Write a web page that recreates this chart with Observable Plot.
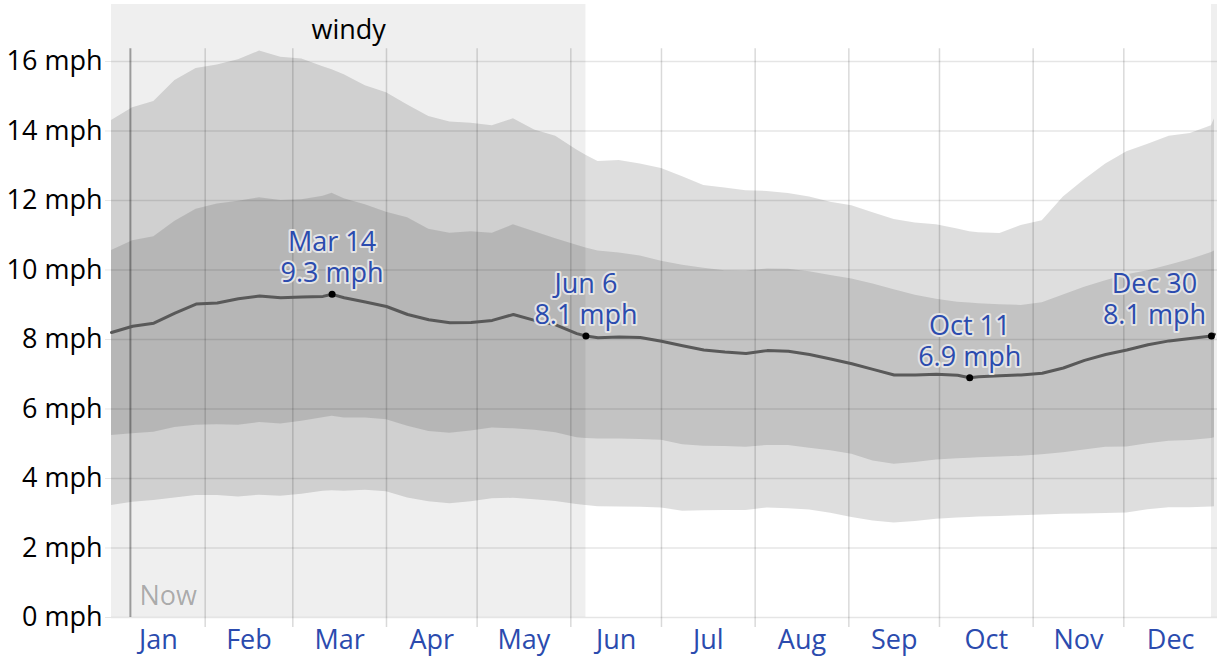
<!DOCTYPE html>
<html>
<head>
<meta charset="utf-8">
<script src="https://cdn.jsdelivr.net/npm/d3@7"></script>
<script src="https://cdn.jsdelivr.net/npm/@observablehq/plot@0.6"></script>
<style>
  html, body { margin: 0; padding: 0; background: #fff; }
  svg { display: block; }
</style>
</head>
<body>
<div id="chart"></div>
<script>
// ---- data ----
const dates = [
  "2024-01-01","2024-01-08","2024-01-15","2024-01-22","2024-01-29","2024-02-05","2024-02-12","2024-02-19","2024-02-26","2024-03-04",
  "2024-03-11","2024-03-14","2024-03-18","2024-03-25","2024-04-01","2024-04-08","2024-04-15","2024-04-22","2024-04-29","2024-05-06",
  "2024-05-13","2024-05-20","2024-05-27","2024-06-03","2024-06-06","2024-06-10","2024-06-17","2024-06-24","2024-07-01","2024-07-08",
  "2024-07-15","2024-07-22","2024-07-29","2024-08-05","2024-08-12","2024-08-19","2024-08-26","2024-09-02","2024-09-09","2024-09-16",
  "2024-09-23","2024-09-30","2024-10-07","2024-10-11","2024-10-14","2024-10-21","2024-10-28","2024-11-04","2024-11-11","2024-11-18",
  "2024-11-25","2024-12-02","2024-12-09","2024-12-16","2024-12-23","2024-12-30","2024-12-31"
];
const median = [
  8.2, 8.38, 8.47, 8.76, 9.02, 9.05, 9.17, 9.25, 9.2, 9.22,
  9.24, 9.3, 9.2, 9.08, 8.95, 8.72, 8.57, 8.48, 8.49, 8.55,
  8.72, 8.55, 8.42, 8.17, 8.1, 8.05, 8.07, 8.06, 7.95, 7.82,
  7.7, 7.64, 7.6, 7.68, 7.66, 7.57, 7.44, 7.3, 7.14, 6.98,
  6.98, 7.0, 6.97, 6.9, 6.93, 6.96, 6.98, 7.03, 7.18, 7.4,
  7.57, 7.7, 7.85, 7.96, 8.03, 8.1, 8.15
];
const p90 = [
  14.3, 14.67, 14.85, 15.45, 15.8, 15.9, 16.05, 16.3, 16.12, 16.07,
  15.85, 15.76, 15.62, 15.3, 15.1, 14.75, 14.42, 14.26, 14.22, 14.15,
  14.35, 14.03, 13.85, 13.45, 13.3, 13.12, 13.15, 13.05, 12.92, 12.68,
  12.43, 12.36, 12.28, 12.26, 12.2, 12.1, 11.95, 11.85, 11.65, 11.45,
  11.35, 11.3, 11.18, 11.1, 11.07, 11.05, 11.28, 11.42, 12.1, 12.6,
  13.05, 13.4, 13.62, 13.85, 13.93, 14.15, 14.35
];
const p75 = [
  10.56, 10.84, 10.96, 11.4, 11.75, 11.9, 11.98, 12.08, 12.0, 12.02,
  12.12, 12.21, 12.05, 11.88, 11.66, 11.5, 11.17, 11.06, 11.1, 11.06,
  11.3, 11.1, 10.9, 10.71, 10.63, 10.55, 10.49, 10.4, 10.25, 10.14,
  10.05, 9.98, 9.97, 10.03, 10.02, 9.95, 9.84, 9.74, 9.6, 9.43,
  9.27, 9.16, 9.07, 9.05, 9.03, 9.0, 8.98, 9.06, 9.28, 9.5,
  9.69, 9.86, 9.98, 10.14, 10.3, 10.5, 10.55
];
const p25 = [
  5.24, 5.29, 5.33, 5.47, 5.53, 5.55, 5.53, 5.61, 5.57, 5.65,
  5.75, 5.79, 5.74, 5.74, 5.69, 5.5, 5.35, 5.3, 5.37, 5.45,
  5.43, 5.39, 5.32, 5.17, 5.15, 5.14, 5.14, 5.12, 5.1, 4.97,
  4.93, 4.92, 4.9, 4.95, 4.95, 4.87, 4.8, 4.7, 4.5, 4.41,
  4.46, 4.53, 4.57, 4.58, 4.6, 4.62, 4.64, 4.68, 4.74, 4.82,
  4.9, 4.91, 5.0, 5.07, 5.09, 5.15, 5.17
];
const p10 = [
  3.22, 3.32, 3.37, 3.44, 3.51, 3.51, 3.47, 3.52, 3.49, 3.55,
  3.63, 3.65, 3.63, 3.66, 3.62, 3.44, 3.33, 3.27, 3.33, 3.42,
  3.43, 3.39, 3.34, 3.25, 3.22, 3.19, 3.18, 3.17, 3.15, 3.06,
  3.07, 3.08, 3.08, 3.15, 3.13, 3.09, 3.0, 2.88, 2.78, 2.72,
  2.76, 2.83, 2.86, 2.88, 2.89, 2.91, 2.93, 2.95, 2.97, 2.98,
  2.99, 3.01, 3.1, 3.16, 3.16, 3.18, 3.19
];
const monthLabels = ["Jan","Feb","Mar","Apr","May","Jun","Jul","Aug","Sep","Oct","Nov","Dec"];
const yTicks = [0, 2, 4, 6, 8, 10, 12, 14, 16];
const yearStart = "2024-01-01";
const yearEnd = "2025-01-01";
const nowDate = "2024-01-07T06:00:00Z";
const windyStarts = ["2024-01-01", "2024-12-30"];
const windyEnds = ["2024-06-06", "2025-01-01"];
const windyLabel = "windy";
const annDates = ["2024-03-14", "2024-06-06", "2024-10-11", "2024-12-30"];
const annLabels = ["Mar 14", "Jun 6", "Oct 11", "Dec 30"];
const annValues = [9.3, 8.1, 6.9, 8.1];

// ---- derived tables ----
const parse = (s) => new Date(s.length === 10 ? s + "T00:00:00Z" : s);
const table = dates.map((d, i) => ({date: parse(d), p10: p10[i], p25: p25[i], median: median[i], p75: p75[i], p90: p90[i]}));
const windy = windyStarts.map((s, i) => ({start: parse(s), end: parse(windyEnds[i])}));
const ann = annDates.map((d, i) => ({date: parse(d), value: annValues[i], text: `${annLabels[i]}\n${annValues[i]} mph`}));
const x0 = parse(yearStart), x1 = parse(yearEnd);
const monthStarts = d3.utcMonth.range(x0, x1);
const months = monthStarts.map((m, i) => ({mid: new Date((+m + +d3.utcMonth.offset(m, 1)) / 2), label: monthLabels[i]}));
const monthLines = monthStarts.slice(1);

const H = 662, mTop = 4, mBottom = 45;
const yMax = 17.64;
const pxPerUnit = (H - mTop - mBottom) / yMax;
const lineTop = 16.37;
const tickBelow = -10 / pxPerUnit;

const blue = "#2b4bae";
const font = "'Open Sans', 'Noto Sans', sans-serif";

const chart = Plot.plot({
  width: 1230,
  height: H,
  marginLeft: 111,
  marginRight: 13,
  marginTop: mTop,
  marginBottom: mBottom,
  style: {fontFamily: font, fontSize: "27px", background: "#fff", color: "#000"},
  x: {type: "utc", domain: [x0, x1], axis: null},
  y: {domain: [0, yMax]},
  marks: [
    Plot.rect(windy, {x1: "start", x2: "end", y1: 0, y2: yMax, fill: "#efefef"}),
    Plot.areaY(table, {x: "date", y1: "p10", y2: "p90", fill: "#000", fillOpacity: 0.13}),
    Plot.areaY(table, {x: "date", y1: "p25", y2: "p75", fill: "#000", fillOpacity: 0.12}),
    Plot.gridY({ticks: yTicks, stroke: "#000", strokeOpacity: 0.1, strokeWidth: 1.5}),
    Plot.axisY({ticks: yTicks, tickFormat: (d) => `${d} mph`, tickSize: 6, tickPadding: 3,
      stroke: "#000", strokeOpacity: 0.1, fill: "#000", fontSize: 27}),
    Plot.ruleX(monthLines, {y1: tickBelow, y2: lineTop, stroke: "#000", strokeOpacity: 0.15, strokeWidth: 1.5}),
    Plot.ruleX([parse(nowDate)], {y1: 0, y2: lineTop, stroke: "#000", strokeOpacity: 0.35, strokeWidth: 2}),
    Plot.text([parse(nowDate)], {x: (d) => d, y: 0, text: () => "Now", textAnchor: "start", lineAnchor: "bottom",
      dx: 9, dy: -13, fill: "#000", fillOpacity: 0.3, fontSize: 27}),
    Plot.text(windy.slice(0, 1), {x: (d) => new Date((+d.start + +d.end) / 2), y: yMax, text: () => windyLabel,
      lineAnchor: "bottom", dy: 34, fill: "#000", fontSize: 27}),
    Plot.lineY(table, {x: "date", y: "median", stroke: "#595959", strokeWidth: 3}),
    Plot.dot(ann, {x: "date", y: "value", r: 3.5, fill: "#000"}),
    Plot.text(ann.slice(0, 3), {x: "date", y: "value", text: "text", lineAnchor: "bottom", dy: -12, lineHeight: 1.15,
      fill: blue, stroke: "#e4e4e4", strokeWidth: 4, fontSize: 27}),
    Plot.text(ann.slice(3), {x: "date", y: "value", text: "text", lineAnchor: "bottom", dy: -12, dx: -57, lineHeight: 1.15,
      fill: blue, stroke: "#e4e4e4", strokeWidth: 4, fontSize: 27}),
    Plot.text(months, {x: "mid", y: 0, text: "label", lineAnchor: "bottom", dy: 31, fill: blue, fontSize: 27})
  ]
});
document.getElementById("chart").appendChild(chart);
</script>
</body>
</html>
